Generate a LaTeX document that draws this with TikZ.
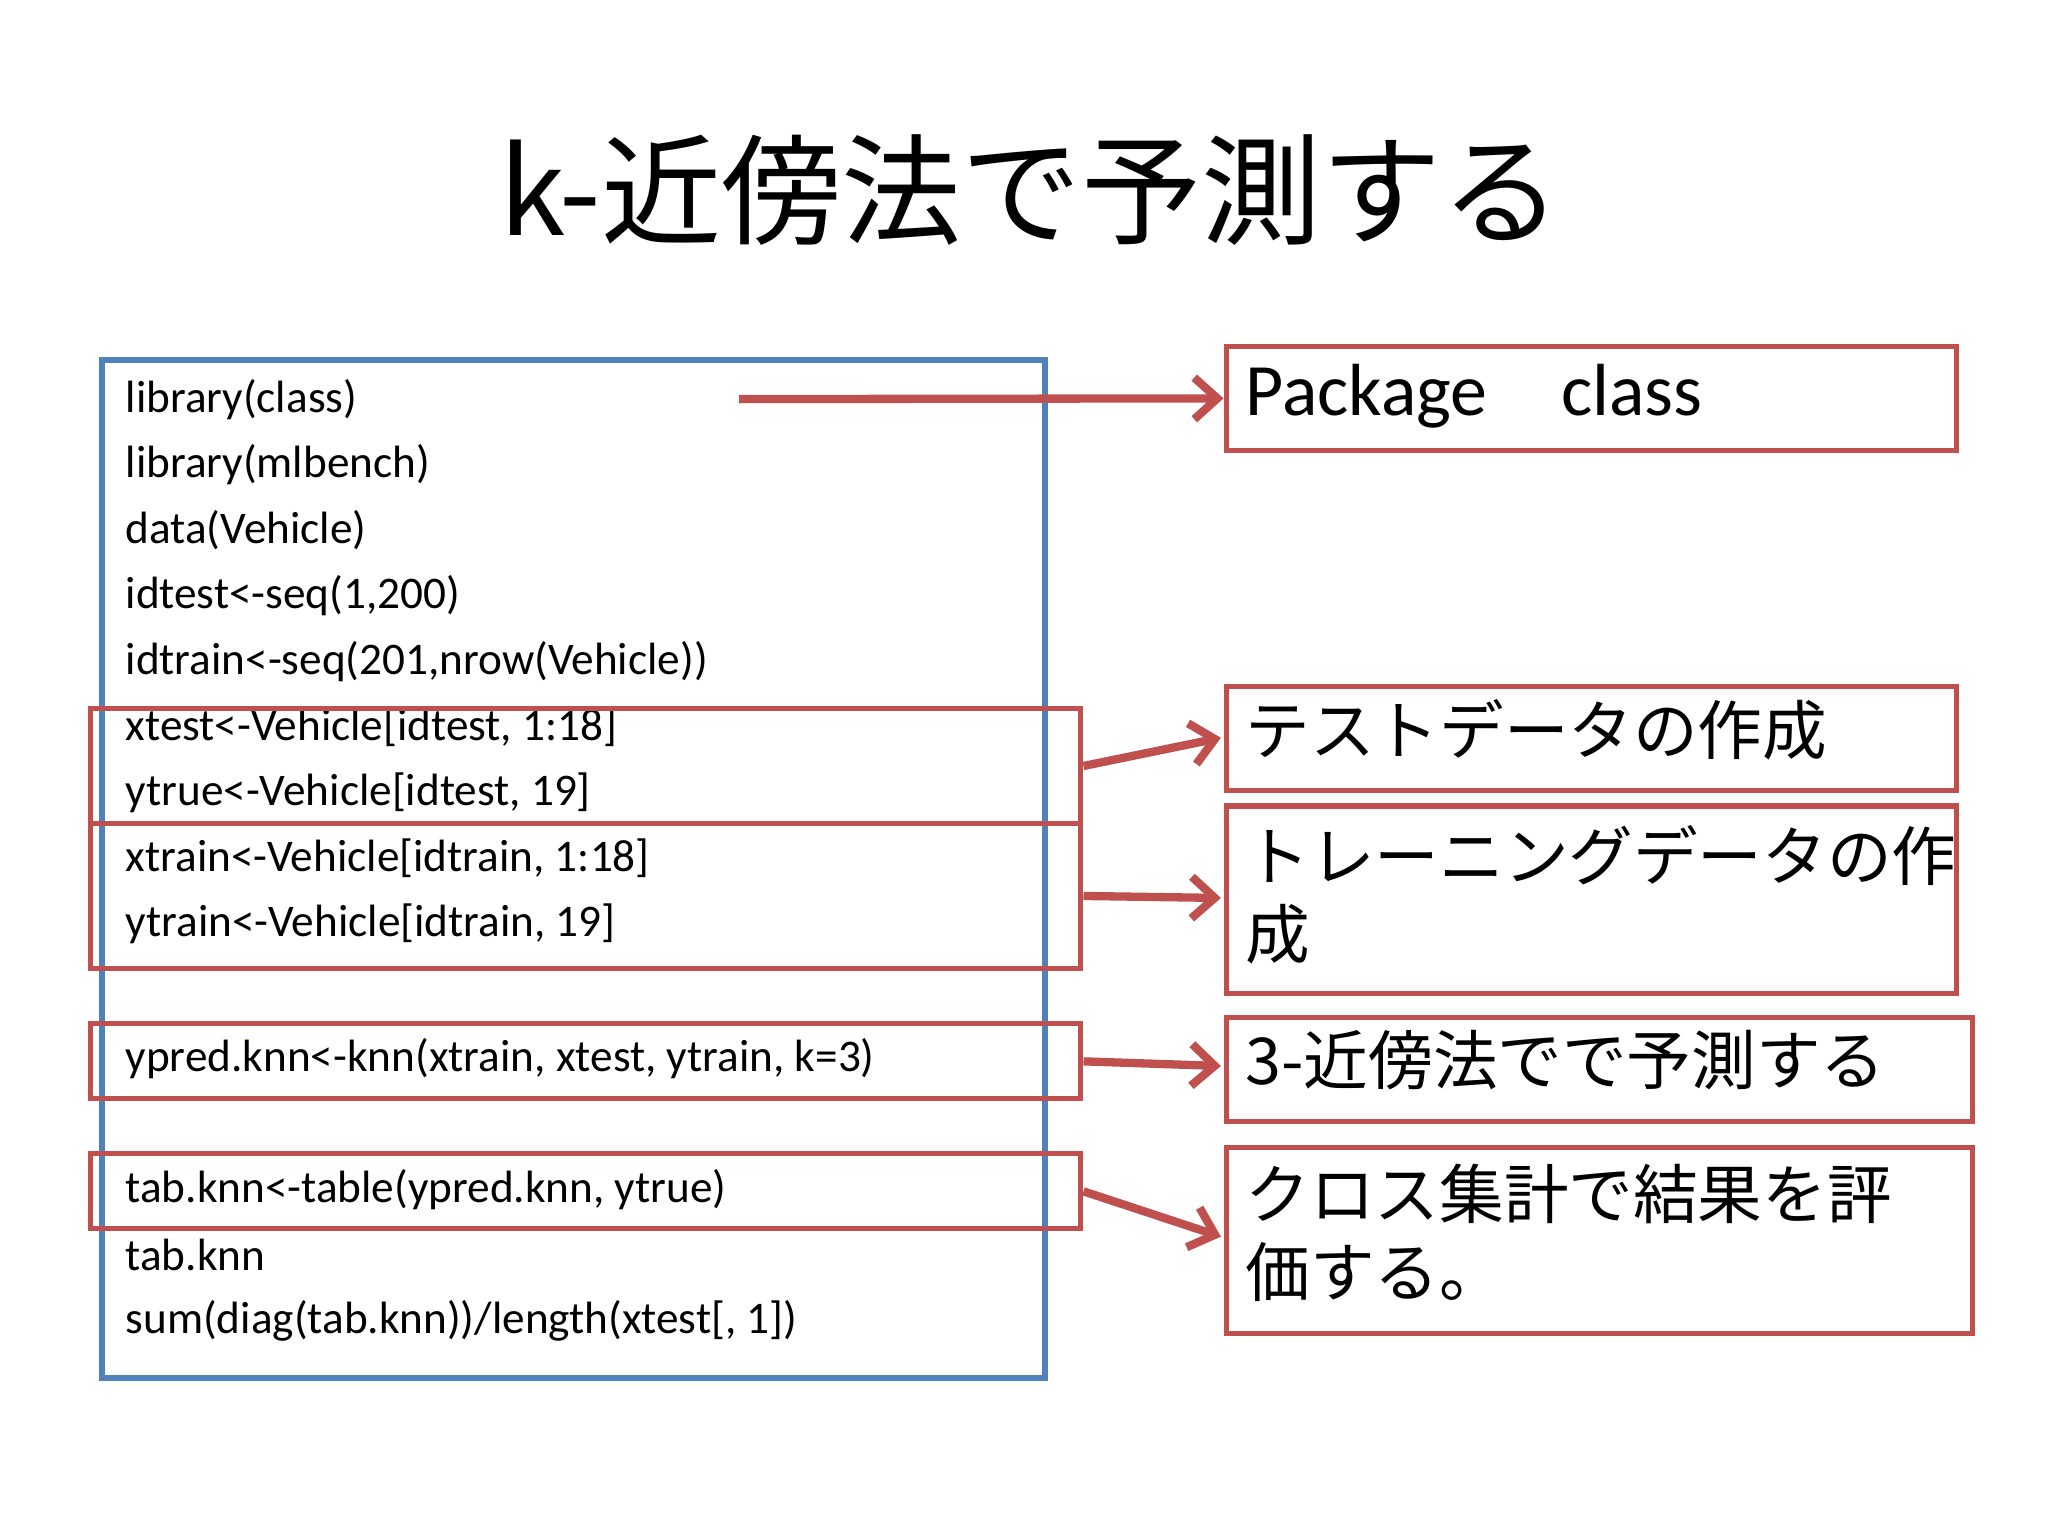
\documentclass[tikz,border=0pt]{standalone}
\usepackage{fontspec}
\setmainfont{Carlito}
\newfontfamily\jp{Noto Sans CJK JP}
\usetikzlibrary{arrows.meta}
\definecolor{rd}{HTML}{C0504D}
\definecolor{bl}{HTML}{4F81BD}
\begin{document}
\begin{tikzpicture}[x=0.01cm,y=-0.01cm,
  code/.style={anchor=west,inner sep=0,font=\fontsize{9.8pt}{11pt}\selectfont},
  rbox/.style={draw=rd,line width=1.1pt,anchor=north west,inner sep=0},
  lbl/.style={anchor=north west,inner sep=0,align=left,font=\jp\fontsize{14pt}{17pt}\selectfont},
  arr/.style={draw=rd,line width=1.8pt,-{Straight Barb[length=5pt,width=9pt]}}]
\useasboundingbox (0,0) rectangle (1560,1170);
\node[font=\jp\fontsize{26pt}{30pt}\selectfont] (title) at (785,145) {k-近傍法で予測する};
\draw[bl,line width=1.3pt] (78,274) rectangle (796,1050);
\foreach \t/\y [count=\i] in {{library(class)}/304, {library(mlbench)}/354, {data(Vehicle)}/404, {idtest<-seq(1,200)}/454, {idtrain<-seq(201,nrow(Vehicle))}/504, {xtest<-Vehicle[idtest, 1:18]}/554, {ytrue<-Vehicle[idtest, 19]}/604, {xtrain<-Vehicle[idtrain, 1:18]}/654, {ytrain<-Vehicle[idtrain, 19]}/704, {ypred.knn<-knn(xtrain, xtest, ytrain, k=3)}/806, {tab.knn<-table(ypred.knn, ytrue)}/906, {tab.knn}/956, {sum(diag(tab.knn))/length(xtest[, 1])}/1006}
  \node[code] (c\i) at (95,\y) {\t};
\node[rbox,minimum width=7.54cm,minimum height=0.87cm] (g1) at (67,538) {};
\node[rbox,minimum width=7.54cm,minimum height=1.11cm] (g2) at (67,625) {};
\node[rbox,minimum width=7.54cm,minimum height=0.57cm] (g3) at (67,778) {};
\node[rbox,minimum width=7.54cm,minimum height=0.57cm] (g4) at (67,877) {};
\node[rbox,minimum width=5.56cm,minimum height=0.79cm] (r1) at (932,262) {};
\node[rbox,minimum width=5.56cm,minimum height=0.79cm] (r2) at (932,521) {};
\node[rbox,minimum width=5.56cm,minimum height=1.43cm] (r3) at (932,612) {};
\node[rbox,minimum width=5.68cm,minimum height=0.79cm] (r4) at (932,773) {};
\node[rbox,minimum width=5.68cm,minimum height=1.42cm] (r5) at (932,872) {};
\node[lbl,font=\fontsize{16pt}{18pt}\selectfont,anchor=west] (t1) at (948,302) {Package\quad class};
\node[lbl] (t2) at (948,532) {テストデータの作成};
\node[lbl] (t3) at (948,628) {トレーニングデータの作\\成};
\node[lbl] (t4) at (948,784) {3-近傍法でで予測する};
\node[lbl] (t5) at (948,886) {クロス集計で結果を評\\価する。};
\coordinate (s1) at (563,304);
\draw[arr] (s1) -- (r1.west);
\draw[arr] (g1.east) -- (930,562);
\draw[arr] (g2.east) -- (930,684);
\draw[arr] (g3.east) -- (930,812);
\draw[arr] (g4.east) -- (930,942);
\end{tikzpicture}
\end{document}
